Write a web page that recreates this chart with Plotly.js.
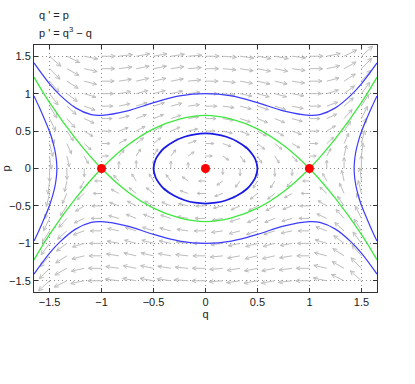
<!DOCTYPE html>
<html>
<head>
<meta charset="utf-8">
<script src="https://cdn.plot.ly/plotly-3.0.1.min.js"></script>
<style>
  html, body { margin: 0; padding: 0; background: white; }
  #chart { width: 415px; height: 384px; }
</style>
</head>
<body>
<div id="chart"></div>
<script>
// phase portrait of q' = p, p' = q^3 - q
// quiver grid (arrow start points)
const qGrid = [-1.5, -1.3333, -1.1667, -1, -0.8333, -0.6667, -0.5, -0.3333, -0.1667, 0,
               0.1667, 0.3333, 0.5, 0.6667, 0.8333, 1, 1.1667, 1.3333, 1.5];
const pGrid = [-1.5, -1.3333, -1.1667, -1, -0.8333, -0.6667, -0.5, -0.3333, -0.1667, 0,
               0.1667, 0.3333, 0.5, 0.6667, 0.8333, 1, 1.1667, 1.3333, 1.5];

// separatrix (green)
const sepQ = [-1.65, -1.5, -1.25, -1, -0.75, -0.5, -0.25, 0, 0.25, 0.5, 0.75, 1, 1.25, 1.5, 1.65];
const sepP = [-1.22, -0.88, -0.40, 0, 0.31, 0.53, 0.66, 0.71, 0.66, 0.53, 0.31, 0, -0.40, -0.88, -1.22];

// outer blue orbits (top / bottom)
const outerQ = [-1.65, -1.5, -1.4, -1.25, -1.1, -1, -0.75, -0.5, -0.25, 0, 0.25, 0.5, 0.75, 1, 1.1, 1.25, 1.4, 1.5, 1.65];
const outerP = [1.41, 1.13, 0.98, 0.81, 0.72, 0.71, 0.77, 0.88, 0.97, 1.00, 0.97, 0.88, 0.77, 0.71, 0.72, 0.81, 0.98, 1.13, 1.41];

// inner closed orbit around the centre
const innerQ = [0.50, 0.48, 0.45, 0.40, 0.30, 0.20, 0.10, 0, -0.10, -0.20, -0.30, -0.40, -0.45, -0.48, -0.50,
                -0.48, -0.45, -0.40, -0.30, -0.20, -0.10, 0, 0.10, 0.20, 0.30, 0.40, 0.45, 0.48, 0.50];
const innerP = [0, 0.12, 0.19, 0.27, 0.365, 0.424, 0.457, 0.468, 0.457, 0.424, 0.365, 0.27, 0.19, 0.12, 0,
                -0.12, -0.19, -0.27, -0.365, -0.424, -0.457, -0.468, -0.457, -0.424, -0.365, -0.27, -0.19, -0.12, 0];

// side orbits (right one; left is mirrored)
const sideQ = [1.65, 1.60, 1.55, 1.50, 1.47, 1.45, 1.44, 1.433, 1.43, 1.433, 1.44, 1.45, 1.47, 1.50, 1.55, 1.60, 1.65];
const sideP = [0.97, 0.82, 0.66, 0.49, 0.36, 0.25, 0.17, 0.09, 0, -0.09, -0.17, -0.25, -0.36, -0.49, -0.66, -0.82, -0.97];

// equilibria
const eqQ = [-1, 0, 1];
const eqP = [0, 0, 0];

const W = 415, H = 384;
const margin = { l: 34, r: 38, t: 45, b: 92 };
const xr = [-1.65, 1.65], yr = [-1.65, 1.65];
const kx = (W - margin.l - margin.r) / (xr[1] - xr[0]); // px per unit
const ky = (H - margin.t - margin.b) / (yr[1] - yr[0]);

// build quiver as one line trace with open heads
function quiver() {
  const xs = [], ys = [];
  const vecs = [];
  let vmax = 0;
  for (const q of qGrid) for (const p of pGrid) {
    const u = p, v = q * q * q - q;
    const m = Math.hypot(u * kx, v * ky);
    vecs.push([q, p, u, v, m]);
    if (m > vmax) vmax = m;
  }
  const Lmax = 15;
  for (const [q, p, u, v, m] of vecs) {
    if (m === 0) continue;
    const L = Lmax * Math.pow(m / vmax, 0.32);
    const dx = u * kx / m, dy = v * ky / m; // pixel direction (y up)
    const ex = dx * L, ey = dy * L;
    const h = Math.max(3, 0.33 * L), a = 0.45;
    const c = Math.cos(a), s = Math.sin(a);
    const h1x = ex - h * (dx * c - dy * s), h1y = ey - h * (dx * s + dy * c);
    const h2x = ex - h * (dx * c + dy * s), h2y = ey - h * (-dx * s + dy * c);
    xs.push(q, q + ex / kx, null, q + h1x / kx, q + ex / kx, q + h2x / kx, null);
    ys.push(p, p + ey / ky, null, p + h1y / ky, p + ey / ky, p + h2y / ky, null);
  }
  return { x: xs, y: ys, type: "scatter", mode: "lines", line: { color: "#bdbdbd", width: 1 }, hoverinfo: "skip" };
}

const neg = a => a.map(v => -v);
const blue = { color: "#3c3cff", width: 1.2, shape: "spline" };
const green = { color: "#3ee83e", width: 1.3, shape: "spline" };

const traces = [
  quiver(),
  { x: outerQ, y: outerP, type: "scatter", mode: "lines", line: blue, hoverinfo: "skip" },
  { x: outerQ, y: neg(outerP), type: "scatter", mode: "lines", line: blue, hoverinfo: "skip" },
  { x: sideQ, y: sideP, type: "scatter", mode: "lines", line: blue, hoverinfo: "skip" },
  { x: neg(sideQ), y: sideP, type: "scatter", mode: "lines", line: blue, hoverinfo: "skip" },
  { x: innerQ, y: innerP, type: "scatter", mode: "lines", line: { color: "#1a1ae6", width: 1.8, shape: "spline" }, hoverinfo: "skip" },
  { x: sepQ, y: sepP, type: "scatter", mode: "lines", line: green, hoverinfo: "skip" },
  { x: sepQ, y: neg(sepP), type: "scatter", mode: "lines", line: green, hoverinfo: "skip" },
  { x: eqQ, y: eqP, type: "scatter", mode: "markers", marker: { color: "#ff0000", size: 9 }, hoverinfo: "skip" }
];

const ax = {
  showline: true, mirror: "ticks", linecolor: "#333", linewidth: 1,
  ticks: "inside", ticklen: 4, tickcolor: "#333",
  showgrid: true, gridcolor: "#8c8c8c", griddash: "1px,3px", gridwidth: 1,
  zeroline: false, dtick: 0.5, tick0: 0,
  tickfont: { size: 11, color: "#222" }
};

const layout = {
  width: W, height: H, margin: margin,
  paper_bgcolor: "white", plot_bgcolor: "white",
  showlegend: false,
  font: { family: "Liberation Sans, Arial, sans-serif", size: 11, color: "#222" },
  xaxis: Object.assign({}, ax, { range: xr, title: { text: "q", standoff: 2, font: { size: 11 } } }),
  yaxis: Object.assign({}, ax, { range: yr, title: { text: "p", standoff: 6, font: { size: 11 } } }),
  annotations: [
    { text: "q ' = p", xref: "paper", yref: "paper", x: 0.008, y: (292 - 15) / 247, xanchor: "left", yanchor: "middle", showarrow: false, font: { size: 11, color: "#222" } },
    { text: "p ' = q<sup>3</sup> − q", xref: "paper", yref: "paper", x: 0.008, y: (292 - 32) / 247, xanchor: "left", yanchor: "middle", showarrow: false, font: { size: 11, color: "#222" } }
  ]
};

Plotly.newPlot("chart", traces, layout, { displayModeBar: false, staticPlot: true });
</script>
</body>
</html>
